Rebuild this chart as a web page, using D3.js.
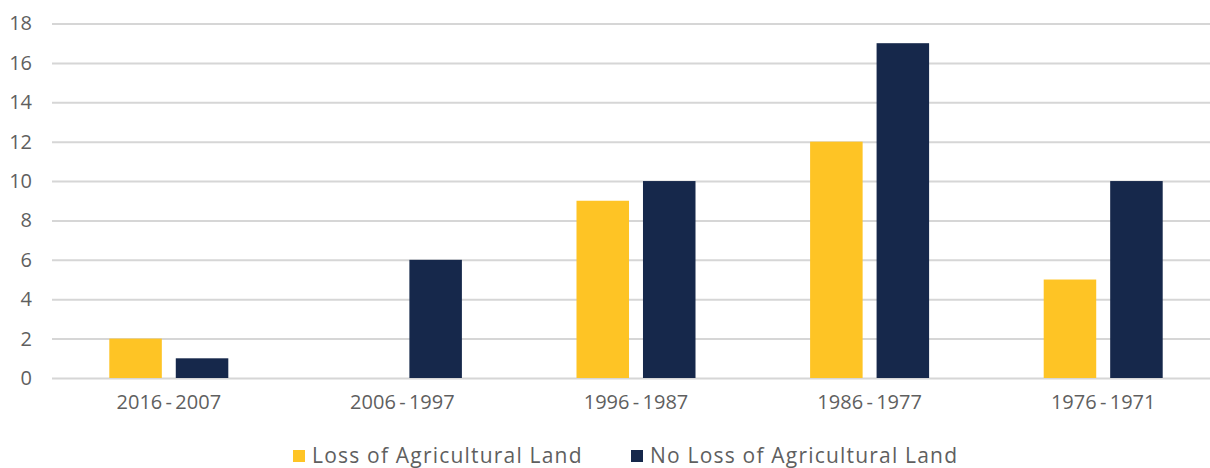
<!DOCTYPE html>
<html>
<head>
<meta charset="utf-8">
<script src="https://cdn.jsdelivr.net/npm/d3@7"></script>
<style>
  html, body { margin: 0; padding: 0; background: #fff; }
  svg { display: block; font-family: "Open Sans", sans-serif; }
</style>
</head>
<body>
<svg id="chart" width="1210" height="468"></svg>
<script>
// Decades of development, newest first
const categories = ["2016-2007", "2006-1997", "1996-1987", "1986-1977", "1976-1971"];
const seriesNames = ["Loss of Agricultural Land", "No Loss of Agricultural Land"];
const lossValues = [2, 0, 9, 12, 5];
const noLossValues = [1, 6, 10, 17, 10];
const yTicks = [0, 2, 4, 6, 8, 10, 12, 14, 16, 18];
const colors = ["#fec425", "#16284b"];

const textColor = "#5f5f5f";
const fontFamily = "'Open Sans', sans-serif";

const svg = d3.select("#chart");
const plot = { left: 52, right: 1220, top: 23.5, bottom: 378 };

const x0 = d3.scaleBand().domain(categories).range([plot.left, plot.right]).padding(0);
const groupW = 119;
const x1 = d3.scaleBand().domain(seriesNames)
  .range([x0.bandwidth() / 2 - groupW / 2, x0.bandwidth() / 2 + groupW / 2])
  .paddingInner(0.21).paddingOuter(0);
const y = d3.scaleLinear().domain([0, 18]).range([plot.bottom, plot.top]);

// Horizontal gridlines with value labels on the left
const yAxis = svg.append("g")
  .attr("transform", `translate(${plot.left},0)`)
  .call(d3.axisLeft(y).tickValues(yTicks).tickSize(-(plot.right - plot.left)).tickPadding(20).tickFormat(d3.format("d")));
yAxis.select(".domain").remove();
yAxis.selectAll(".tick line").attr("stroke", "#d6d6d6").attr("stroke-width", 2);
yAxis.selectAll(".tick text")
  .attr("fill", textColor).attr("font-size", 20).attr("font-family", fontFamily);

// Bars
const rows = categories.map((c, i) => ({ cat: c, vals: [lossValues[i], noLossValues[i]] }));
const groups = svg.append("g").selectAll("g").data(rows).join("g")
  .attr("transform", d => `translate(${x0(d.cat)},0)`);
groups.selectAll("rect")
  .data(d => d.vals.map((v, j) => ({ name: seriesNames[j], v, j })).filter(e => e.v > 0))
  .join("rect")
  .attr("x", d => x1(d.name))
  .attr("width", x1.bandwidth())
  .attr("y", d => y(d.v))
  .attr("height", d => y(0) - y(d.v))
  .attr("fill", d => colors[d.j]);

// Category labels (thin spaces around the dash)
const xAxis = svg.append("g")
  .attr("transform", `translate(0,${plot.bottom})`)
  .call(d3.axisBottom(x0).tickSize(0).tickPadding(17).tickFormat(d => d.replace("-", "\u2009-\u2009")));
xAxis.select(".domain").remove();
xAxis.selectAll(".tick text")
  .attr("fill", textColor).attr("font-size", 20).attr("font-family", fontFamily);

// Legend
const legendX = [293, 631];
const legend = svg.append("g").selectAll("g").data(seriesNames).join("g")
  .attr("transform", (d, i) => `translate(${legendX[i]},450)`);
legend.append("rect").attr("width", 12).attr("height", 12).attr("fill", (d, i) => colors[i]);
legend.append("text").attr("x", 19).attr("y", 12.5).text(d => d)
  .attr("fill", textColor).attr("font-size", 21).attr("letter-spacing", 1.2)
  .attr("font-family", fontFamily);
</script>
</body>
</html>
